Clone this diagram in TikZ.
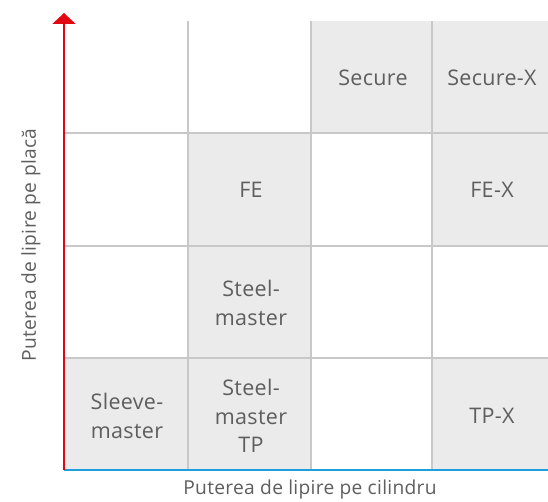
\documentclass[tikz,border=0pt]{standalone}
\usepackage{fontspec}
\setmainfont{Open Sans}
\usetikzlibrary{arrows.meta}
\definecolor{cellgray}{HTML}{EBEBEB}
\definecolor{gridgray}{HTML}{C8C8C8}
\definecolor{txtgray}{HTML}{5E5E5E}
\definecolor{axred}{HTML}{E30613}
\definecolor{axblue}{HTML}{1BA0DC}
\tikzset{
  cellfill/.style={fill=cellgray, draw=none},
  gridline/.style={draw=gridgray, line width=1.5pt},
  celltext/.style={text=txtgray, align=center, font=\fontsize{21.5}{28.5}\selectfont\addfontfeatures{LetterSpace=1.5}, inner sep=0pt},
  axlabel/.style={text=txtgray, font=\fontsize{19.2}{22}\selectfont\addfontfeatures{LetterSpace=1.5}, inner sep=0pt},
}
\begin{document}
\begin{tikzpicture}[x=1pt,y=-1pt]
\useasboundingbox (0,0) rectangle (548,502);
% shaded cells
\fill[cellfill] (311,21) rectangle (432,133);
\fill[cellfill] (432,21) rectangle (548,133);
\fill[cellfill] (188,133) rectangle (311,246);
\fill[cellfill] (432,133) rectangle (548,246);
\fill[cellfill] (188,246) rectangle (311,358);
\fill[cellfill] (64,358) rectangle (188,470);
\fill[cellfill] (188,358) rectangle (311,470);
\fill[cellfill] (432,358) rectangle (548,470);
% grid
\draw[gridline] (188,21) -- (188,470);
\draw[gridline] (311,21) -- (311,470);
\draw[gridline] (432,21) -- (432,470);
\draw[gridline] (64,133) -- (548,133);
\draw[gridline] (64,246) -- (548,246);
\draw[gridline] (64,358) -- (548,358);
% axes
\coordinate (origin) at (64,470);
\coordinate (ytop) at (64,13);
\coordinate (xend) at (548,470);
\draw[axblue, line width=2.5pt] (origin) -- (xend);
\draw[axred, line width=2pt, -{Triangle[width=23pt,length=11pt]}] (origin) -- (ytop);
% cell texts
\node[celltext] (secure) at (373,78) {Secure};
\node[celltext] (securex) at (492,78) {Secure-X};
\node[celltext] (fe) at (251,190) {FE};
\node[celltext] (fex) at (492,190) {FE-X};
\node[celltext] (steel) at (251,303) {Steel-\\master};
\node[celltext] (sleeve) at (127,416) {Sleeve-\\master};
\node[celltext] (steeltp) at (251,416) {Steel-\\master\\TP};
\node[celltext] (tpx) at (492,416) {TP-X};
% axis labels
\node[axlabel, anchor=base] (xlabel) at (310,494) {Puterea de lipire pe cilindru};
\node[axlabel, rotate=90] (ylabel) at (31,245) {Puterea de lipire pe placă};
\end{tikzpicture}
\end{document}
